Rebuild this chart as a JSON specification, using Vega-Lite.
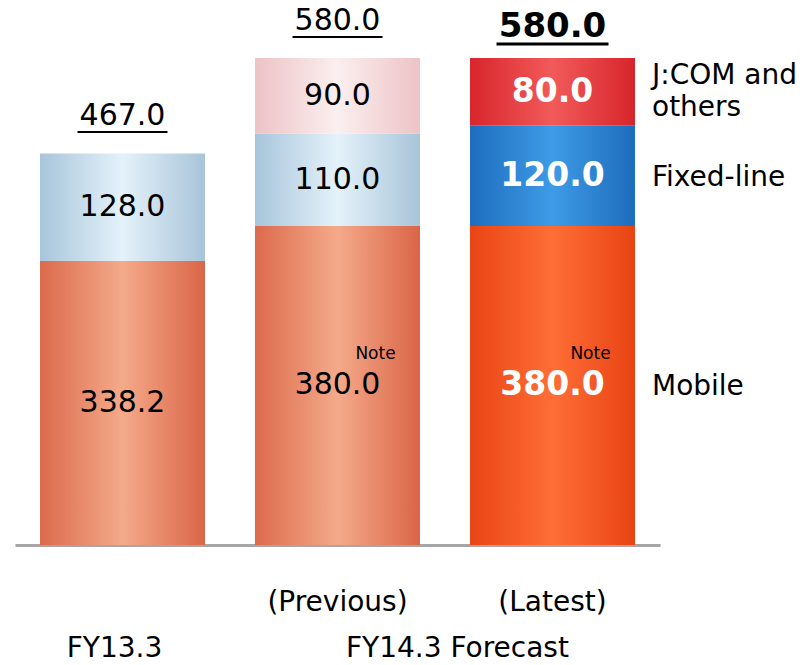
{
  "$schema": "https://vega.github.io/schema/vega-lite/v6.json",
  "width": 645,
  "height": 487,
  "autosize": "none",
  "padding": {"left": 15, "top": 58, "right": 151, "bottom": 120},
  "background": "white",
  "config": {"view": {"stroke": null}, "font": "DejaVu Sans", "text": {"font": "DejaVu Sans"}},
  "datasets": {
    "segments": [
      {"bar": "FY13.3", "segment": "Mobile", "value": 338.2},
      {"bar": "FY13.3", "segment": "Fixed-line", "value": 128.0},
      {"bar": "Previous", "segment": "Mobile", "value": 380.0},
      {"bar": "Previous", "segment": "Fixed-line", "value": 110.0},
      {"bar": "Previous", "segment": "J:COM and\nothers", "value": 90.0},
      {"bar": "Latest", "segment": "Mobile", "value": 380.0},
      {"bar": "Latest", "segment": "Fixed-line", "value": 120.0},
      {"bar": "Latest", "segment": "J:COM and\nothers", "value": 80.0}
    ],
    "totals": [
      {"bar": "FY13.3", "total": 467.0},
      {"bar": "Previous", "total": 580.0},
      {"bar": "Latest", "total": 580.0}
    ],
    "bottom": [
      {"bar": "Previous", "text": "(Previous)"},
      {"bar": "Latest", "text": "(Latest)"}
    ],
    "bottom2": [
      {"bar": "FY13.3", "text": "FY13.3"}
    ],
    "bottom3": [
      {"bar": "Latest", "text": "FY14.3 Forecast"}
    ]
  },
  "encoding": {
    "x": {
      "field": "bar",
      "type": "nominal",
      "scale": {"domain": ["FY13.3", "Previous", "Latest"], "paddingInner": 0.2326, "paddingOuter": 0.1163},
      "axis": {"title": null, "labels": false, "ticks": false, "domainColor": "#A6A6A6", "domainWidth": 3}
    }
  },
  "layer": [
    {
      "data": {"name": "segments"},
      "transform": [
        {"stack": "value", "groupby": ["bar"], "as": ["y0", "y1"]},
        {"calculate": "(datum.y0 + datum.y1) / 2", "as": "mid"}
      ],
      "layer": [
        {
          "transform": [{"filter": "datum.segment == 'Mobile' && datum.bar != 'Latest'"}],
          "mark": {"type": "bar", "color": {"gradient": "linear", "x1": 0, "x2": 1, "y1": 0, "y2": 0, "stops": [{"offset": 0, "color": "#DC6A4C"}, {"offset": 0.5, "color": "#F4AA8A"}, {"offset": 1, "color": "#DA6547"}]}},
          "encoding": {
            "y": {"field": "y1", "type": "quantitative", "scale": {"domain": [0, 580], "nice": false}, "axis": null},
            "y2": {"field": "y0"}
          }
        },
        {
          "transform": [{"filter": "datum.segment == 'Fixed-line' && datum.bar != 'Latest'"}],
          "mark": {"type": "bar", "color": {"gradient": "linear", "x1": 0, "x2": 1, "y1": 0, "y2": 0, "stops": [{"offset": 0, "color": "#A8C5DB"}, {"offset": 0.5, "color": "#E4F2FA"}, {"offset": 1, "color": "#A8C4D9"}]}},
          "encoding": {
            "y": {"field": "y1", "type": "quantitative", "axis": null},
            "y2": {"field": "y0"}
          }
        },
        {
          "transform": [{"filter": "datum.segment != 'Mobile' && datum.segment != 'Fixed-line' && datum.bar != 'Latest'"}],
          "mark": {"type": "bar", "color": {"gradient": "linear", "x1": 0, "x2": 1, "y1": 0, "y2": 0, "stops": [{"offset": 0, "color": "#EDC3C6"}, {"offset": 0.5, "color": "#FBEFEF"}, {"offset": 1, "color": "#EDC3C6"}]}},
          "encoding": {
            "y": {"field": "y1", "type": "quantitative", "axis": null},
            "y2": {"field": "y0"}
          }
        },
        {
          "transform": [{"filter": "datum.segment == 'Mobile' && datum.bar == 'Latest'"}],
          "mark": {"type": "bar", "color": {"gradient": "linear", "x1": 0, "x2": 1, "y1": 0, "y2": 0, "stops": [{"offset": 0, "color": "#E94414"}, {"offset": 0.5, "color": "#FF6E36"}, {"offset": 1, "color": "#E84313"}]}},
          "encoding": {
            "y": {"field": "y1", "type": "quantitative", "axis": null},
            "y2": {"field": "y0"}
          }
        },
        {
          "transform": [{"filter": "datum.segment == 'Fixed-line' && datum.bar == 'Latest'"}],
          "mark": {"type": "bar", "color": {"gradient": "linear", "x1": 0, "x2": 1, "y1": 0, "y2": 0, "stops": [{"offset": 0, "color": "#1E6DBE"}, {"offset": 0.5, "color": "#3E9BE6"}, {"offset": 1, "color": "#1E6CBC"}]}},
          "encoding": {
            "y": {"field": "y1", "type": "quantitative", "axis": null},
            "y2": {"field": "y0"}
          }
        },
        {
          "transform": [{"filter": "datum.segment != 'Mobile' && datum.segment != 'Fixed-line' && datum.bar == 'Latest'"}],
          "mark": {"type": "bar", "color": {"gradient": "linear", "x1": 0, "x2": 1, "y1": 0, "y2": 0, "stops": [{"offset": 0, "color": "#D8262C"}, {"offset": 0.5, "color": "#F25A5A"}, {"offset": 1, "color": "#D6252B"}]}},
          "encoding": {
            "y": {"field": "y1", "type": "quantitative", "axis": null},
            "y2": {"field": "y0"}
          }
        },
        {
          "transform": [{"filter": "datum.bar != 'Latest'"}],
          "mark": {"type": "text", "fontSize": 30, "color": "#000000", "baseline": "middle", "align": "center"},
          "encoding": {
            "y": {"field": "mid", "type": "quantitative", "axis": null},
            "text": {"field": "value", "type": "quantitative", "format": ".1f"}
          }
        },
        {
          "transform": [{"filter": "datum.bar == 'Latest'"}],
          "mark": {"type": "text", "fontSize": 33, "fontWeight": "bold", "color": "#FFFFFF", "baseline": "middle", "align": "center"},
          "encoding": {
            "y": {"field": "mid", "type": "quantitative", "axis": null},
            "text": {"field": "value", "type": "quantitative", "format": ".1f"}
          }
        },
        {
          "transform": [{"filter": "datum.segment == 'Mobile' && datum.bar != 'FY13.3'"}],
          "mark": {"type": "text", "fontSize": 17, "color": "#000000", "baseline": "middle", "align": "center", "dx": 38, "dy": -31},
          "encoding": {
            "y": {"field": "mid", "type": "quantitative", "axis": null},
            "text": {"datum": "Note"}
          }
        },
        {
          "transform": [{"filter": "datum.bar == 'Latest' && (datum.segment == 'Mobile' || datum.segment == 'Fixed-line')"}],
          "mark": {"type": "text", "fontSize": 28, "color": "#000000", "baseline": "middle", "align": "left", "dx": 17, "dy": 2},
          "encoding": {
            "x": {"field": "bar", "type": "nominal", "bandPosition": 1},
            "y": {"field": "mid", "type": "quantitative", "axis": null},
            "text": {"field": "segment", "type": "nominal"}
          }
        },
        {
          "transform": [{"filter": "datum.bar == 'Latest' && datum.segment != 'Mobile' && datum.segment != 'Fixed-line'"}],
          "mark": {"type": "text", "fontSize": 28, "color": "#000000", "baseline": "middle", "align": "left", "dx": 17, "dy": -16, "lineBreak": "\n", "lineHeight": 32},
          "encoding": {
            "x": {"field": "bar", "type": "nominal", "bandPosition": 1},
            "y": {"field": "mid", "type": "quantitative", "axis": null},
            "text": {"field": "segment", "type": "nominal"}
          }
        }
      ]
    },
    {
      "data": {"name": "totals"},
      "layer": [
        {
          "transform": [{"filter": "datum.bar != 'Latest'"}],
          "mark": {"type": "text", "fontSize": 30, "color": "#000000", "baseline": "middle", "align": "center", "dy": -37},
          "encoding": {
            "y": {"field": "total", "type": "quantitative", "axis": null},
            "text": {"field": "total", "type": "quantitative", "format": ".1f"}
          }
        },
        {
          "transform": [{"filter": "datum.bar != 'Latest'"}],
          "mark": {"type": "tick", "size": 90, "thickness": 2, "color": "#000000", "opacity": 1, "yOffset": -21, "orient": "horizontal"},
          "encoding": {
            "y": {"field": "total", "type": "quantitative", "axis": null}
          }
        },
        {
          "transform": [{"filter": "datum.bar == 'Latest'"}],
          "mark": {"type": "text", "fontSize": 34, "fontWeight": "bold", "color": "#000000", "baseline": "middle", "align": "center", "dy": -31},
          "encoding": {
            "y": {"field": "total", "type": "quantitative", "axis": null},
            "text": {"field": "total", "type": "quantitative", "format": ".1f"}
          }
        },
        {
          "transform": [{"filter": "datum.bar == 'Latest'"}],
          "mark": {"type": "tick", "size": 112, "thickness": 3, "color": "#000000", "opacity": 1, "yOffset": -14, "orient": "horizontal"},
          "encoding": {
            "y": {"field": "total", "type": "quantitative", "axis": null}
          }
        }
      ]
    },
    {
      "data": {"name": "bottom"},
      "mark": {"type": "text", "fontSize": 28, "color": "#000000", "baseline": "middle", "align": "center", "dy": 58},
      "encoding": {
        "y": {"datum": 0, "type": "quantitative", "axis": null},
        "text": {"field": "text", "type": "nominal"}
      }
    },
    {
      "data": {"name": "bottom2"},
      "mark": {"type": "text", "fontSize": 28, "color": "#000000", "baseline": "middle", "align": "center", "dy": 104, "dx": -8},
      "encoding": {
        "y": {"datum": 0, "type": "quantitative", "axis": null},
        "text": {"field": "text", "type": "nominal"}
      }
    },
    {
      "data": {"name": "bottom3"},
      "mark": {"type": "text", "fontSize": 28, "color": "#000000", "baseline": "middle", "align": "center", "dy": 104},
      "encoding": {
        "x": {"field": "bar", "type": "nominal", "bandPosition": -0.076},
        "y": {"datum": 0, "type": "quantitative", "axis": null},
        "text": {"field": "text", "type": "nominal"}
      }
    }
  ]
}
